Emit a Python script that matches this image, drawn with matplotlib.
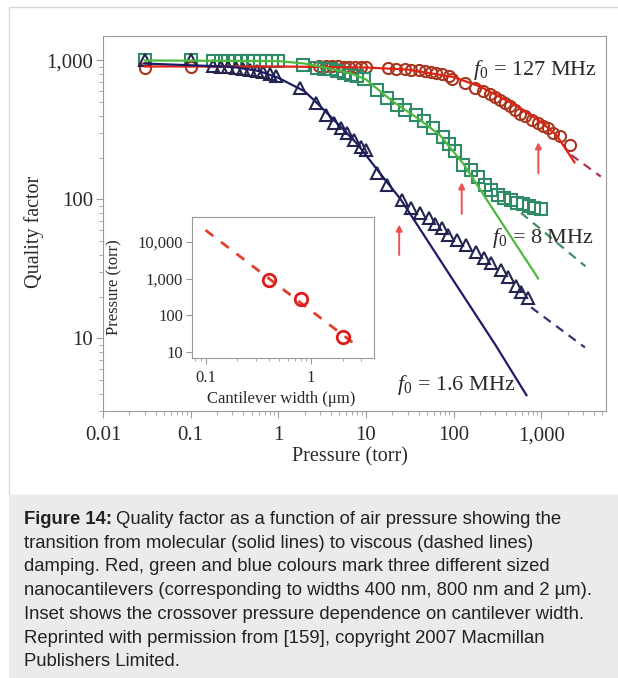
import matplotlib

matplotlib.use("Agg")
import matplotlib.pyplot as plt
from matplotlib.patches import Rectangle
from matplotlib.ticker import LogLocator, NullFormatter, NullLocator

# measured points (pressure in torr, quality factor)
red_p = [0.03, 0.1, 2.9, 3.5, 4.1, 4.8, 5.6, 6.5, 7.6, 8.8, 10, 18, 22, 28, 33, 40,
         47, 55, 63, 73, 88, 97, 137, 177, 218, 262, 300, 343, 390, 443, 505, 573,
         655, 780, 930, 1050, 1200, 1380, 1650, 2140]
red_q = [885, 890, 905, 910, 905, 905, 900, 900, 895, 895, 890, 880, 875, 870, 860, 850,
         845, 830, 815, 800, 770, 740, 694, 638, 600, 569, 545, 522, 495, 467, 440, 410,
         396, 370, 356, 340, 328, 300, 284, 247]

green_p = [0.03, 0.1, 0.18, 0.22, 0.27, 0.32, 0.38, 0.45, 0.53, 0.62, 0.72, 0.85, 1.0,
           1.9, 2.8, 3.3, 4.0, 4.7, 5.6, 6.7, 7.9, 9.5, 13.3, 17.4, 22.5, 28, 37, 46,
           59, 75, 90, 104, 130, 159, 190, 228, 270, 323, 380, 450, 530, 620, 720, 840, 1000]
green_q = [1000, 1000, 990, 990, 985, 990, 985, 990, 985, 990, 985, 990, 985,
           935, 885, 870, 861, 837, 815, 792, 771, 730, 617, 538, 481, 443, 407, 364,
           327, 280, 250, 222, 178, 163, 146, 127, 117, 107, 103, 99, 95, 92, 89, 87, 85]

blue_p = [0.03, 0.1, 0.18, 0.22, 0.27, 0.33, 0.4, 0.48, 0.57, 0.67, 0.8, 0.95, 1.75,
          2.7, 3.5, 4.3, 5.2, 6.1, 7.3, 8.8, 10, 13.3, 17.4, 25.8, 33, 42, 52, 62, 73,
          87, 110, 140, 180, 220, 270, 350, 420, 520, 590, 710]
blue_q = [1000, 1000, 910, 900, 890, 880, 870, 855, 840, 820, 800, 770, 635,
          498, 407, 356, 328, 302, 268, 240, 228, 155, 127, 99, 87, 80, 73, 67, 62,
          55, 51, 47, 42, 38, 35, 31, 27.5, 24, 21.6, 19.5]

# molecular-regime fits (solid)
red_fit_p = [0.03, 1, 10, 30, 100, 200, 500, 1000, 1500, 2400]
red_fit_q = [905, 905, 890, 860, 760, 650, 480, 360, 290, 185]
green_fit_p = [0.03, 1, 2, 4, 7, 10, 20, 40, 70, 130, 300, 925]
green_fit_q = [1000, 990, 950, 870, 800, 730, 510, 380, 290, 180, 80, 27]
blue_fit_p = [0.03, 0.3, 0.6, 1, 2, 3, 5, 8, 15, 25, 50, 100, 300, 680]
blue_fit_q = [950, 900, 840, 750, 600, 470, 340, 250, 150, 100, 51, 26, 9, 3.9]

# viscous-regime fits (dashed)
red_visc_p = [2200, 4800]
red_visc_q = [209, 146]
green_visc_p = [590, 3200]
green_visc_q = [80, 33]
blue_visc_p = [770, 3160]
blue_visc_q = [16.7, 8.6]

# crossover arrows
arrow_p = [24, 124, 930]
arrow_lo = [38, 75, 147]
arrow_hi = [69, 139, 270]

# inset: crossover pressure vs cantilever width
inset_w = [0.4, 0.8, 2.0]
inset_p = [900, 270, 26]
inset_fit_w = [0.1, 2.7]
inset_fit_p = [21000, 15]

caption_lines = [
    "transition from molecular (solid lines) to viscous (dashed lines)",
    "damping. Red, green and blue colours mark three different sized",
    "nanocantilevers (corresponding to widths 400 nm, 800 nm and 2 \u00b5m).",
    "Inset shows the crossover pressure dependence on cantilever width.",
    "Reprinted with permission from [159], copyright 2007 Macmillan",
    "Publishers Limited.",
]

plt.rcParams["font.family"] = ["Liberation Serif", "DejaVu Serif"]
plt.rcParams["mathtext.fontset"] = "custom"
plt.rcParams["mathtext.rm"] = "Liberation Serif"
plt.rcParams["mathtext.it"] = "Liberation Serif:italic"

W, H = 618, 678
fig = plt.figure(figsize=(W / 100, H / 100), dpi=100)


def fx(px):
    return px / W


def fy(py):
    return 1 - py / H


# page frame + grey caption block
fig.patches.append(Rectangle((fx(9), fy(495)), 1, fy(7) - fy(495), transform=fig.transFigure,
                             fill=False, ec="#d9d9d9", lw=1))
fig.patches.append(Rectangle((fx(9), 0), 1, fy(495), transform=fig.transFigure,
                             fc="#ebebeb", ec="none"))

TXT = "#2a2a2a"
SPINE = "#9a9a9a"

ax = fig.add_axes([fx(103), fy(411), fx(606) - fx(103), fy(36) - fy(411)])
ax.set_xscale("log")
ax.set_yscale("log")

ax.plot(red_p, red_q, "o", ms=8, mfc="none", mec="#a8361f", mew=1.5)
ax.plot(green_p, green_q, "s", ms=8, mfc="none", mec="#2f8a68", mew=1.5)
ax.plot(blue_p, blue_q, "^", ms=8.5, mfc="none", mec="#24244e", mew=1.5)

ax.plot(red_fit_p, red_fit_q, color="#e02414", lw=1.6)
ax.plot(green_fit_p, green_fit_q, color="#4cba3c", lw=1.6)
ax.plot(blue_fit_p, blue_fit_q, color="#1d1d66", lw=1.6)
ax.plot(red_visc_p, red_visc_q, color="#b0334a", lw=1.6, dashes=(4, 3))
ax.plot(green_visc_p, green_visc_q, color="#3d9060", lw=1.6, dashes=(4, 3))
ax.plot(blue_visc_p, blue_visc_q, color="#333377", lw=1.6, dashes=(4, 3))

for p, lo, hi in zip(arrow_p, arrow_lo, arrow_hi):
    ax.annotate("", xy=(p, hi), xytext=(p, lo),
                arrowprops=dict(arrowstyle="-|>", color="#ef5050", lw=1.4, mutation_scale=9))

ax.text(169, 860, r"$f_\mathit{0}$ = 127 MHz", fontsize=16, color=TXT, va="center")
ax.text(277, 53, r"$f_\mathit{0}$ = 8 MHz", fontsize=16, color=TXT, va="center")
ax.text(22.5, 4.6, r"$f_\mathit{0}$ = 1.6 MHz", fontsize=16, color=TXT, va="center")

ax.set_xlim(0.01, 5500)
ax.set_ylim(3, 1500)
ax.set_xticks([0.01, 0.1, 1, 10, 100, 1000], ["0.01", "0.1", "1", "10", "100", "1,000"])
ax.set_yticks([10, 100, 1000], ["10", "100", "1,000"])
ax.xaxis.set_minor_locator(LogLocator(subs=range(2, 10)))
ax.yaxis.set_minor_locator(LogLocator(subs=range(2, 10)))
ax.xaxis.set_minor_formatter(NullFormatter())
ax.yaxis.set_minor_formatter(NullFormatter())
ax.tick_params(which="both", direction="out", color=SPINE, labelcolor=TXT, labelsize=15)
ax.tick_params(which="major", length=5)
ax.tick_params(which="minor", length=3)
ax.tick_params(axis="x", pad=6)
ax.tick_params(axis="y", pad=2)
for s in ax.spines.values():
    s.set_color(SPINE)
ax.set_xlabel("Pressure (torr)", fontsize=14.5, color=TXT)
ax.set_ylabel("Quality factor", fontsize=14.5, color=TXT)
ax.xaxis.set_label_coords(0.49, -0.097)
ax.yaxis.set_label_coords(-0.118, 0.477)

# inset
axi = fig.add_axes([fx(192), fy(358), fx(374) - fx(192), fy(217) - fy(358)])
axi.set_xscale("log")
axi.set_yscale("log")
axi.plot(inset_fit_w, inset_fit_p, color="#e0402a", lw=2, dashes=(3.5, 3.5))
axi.plot(inset_w, inset_p, "o", ms=9, mfc="none", mec="#e01b1b", mew=2)
axi.set_xlim(0.0744, 3.95)
axi.set_ylim(6.8, 48000)
axi.set_xticks([0.1, 1], ["0.1", "1"])
axi.set_yticks([10, 100, 1000, 10000], ["10", "100", "1,000", "10,000"])
axi.xaxis.set_minor_locator(LogLocator(subs=range(2, 10)))
axi.xaxis.set_minor_formatter(NullFormatter())
axi.yaxis.set_minor_locator(NullLocator())
axi.tick_params(which="both", direction="out", color=SPINE, labelcolor=TXT, labelsize=12)
axi.tick_params(which="major", length=4)
axi.tick_params(which="minor", length=2.5)
axi.tick_params(axis="x", pad=5)
axi.tick_params(axis="y", pad=2.5)
for s in axi.spines.values():
    s.set_color(SPINE)
axi.set_xlabel("Cantilever width (\u03bcm)", fontsize=12, color=TXT)
axi.set_ylabel("Pressure (torr)", fontsize=12, color=TXT)
axi.xaxis.set_label_coords(0.49, -0.234)
axi.yaxis.set_label_coords(-0.38, 0.5)

# caption
cap_font = dict(family=["Liberation Sans", "DejaVu Sans"], fontsize=13.3, color="#222222",
                va="center")
head = fig.text(fx(24), fy(519), "Figure 14:", weight="bold", **cap_font)
fig.canvas.draw()
bb = head.get_window_extent()
fig.text(bb.x1 / W + fx(4), fy(519), "Quality factor as a function of air pressure showing the",
         **cap_font)
for i, line in enumerate(caption_lines):
    fig.text(fx(24), fy(543 + 23.8 * i), line, **cap_font)

fig.savefig("out.png", dpi=100)
